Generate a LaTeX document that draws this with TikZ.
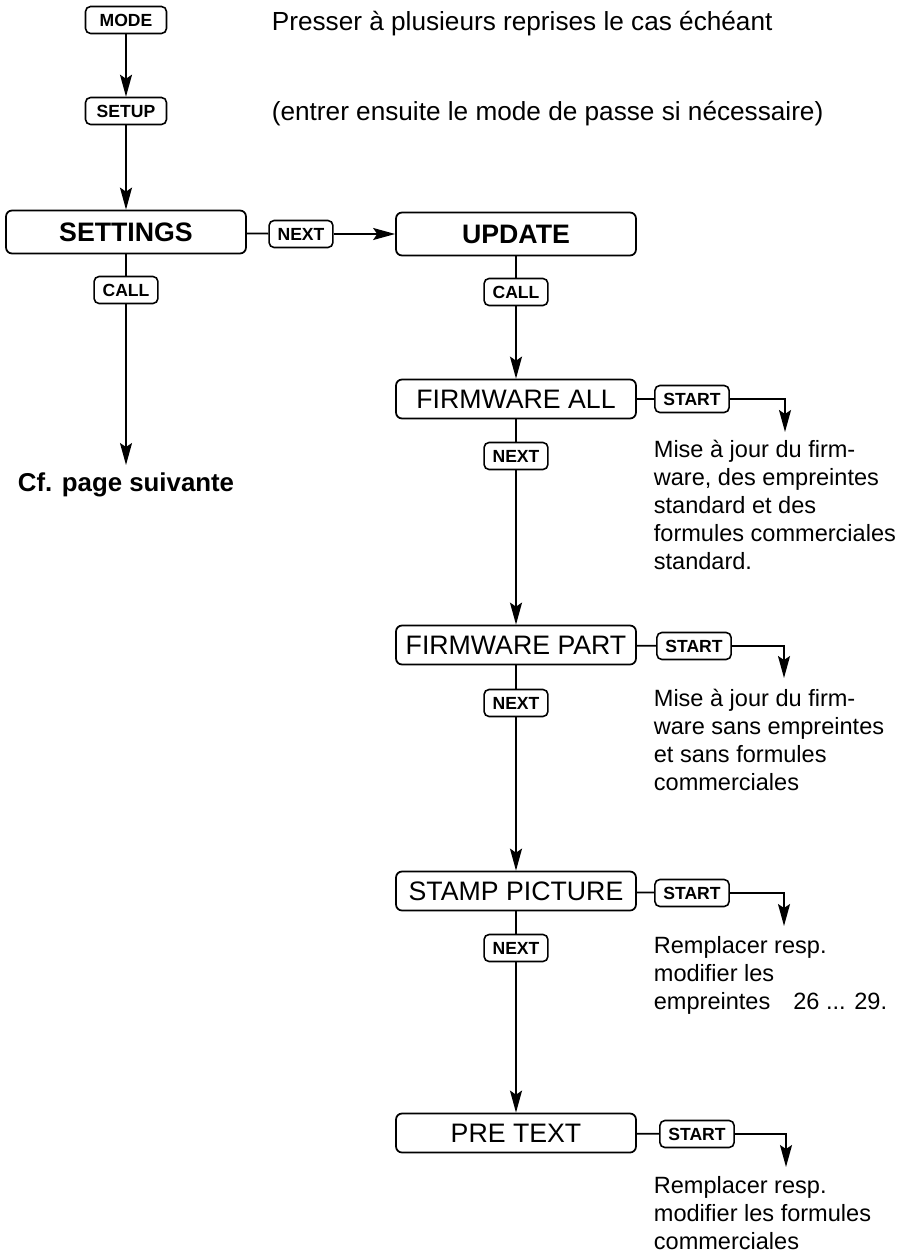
\documentclass[tikz,border=0pt]{standalone}
\usepackage{fontspec}
\setmainfont{Liberation Sans}
\usetikzlibrary{arrows.meta}

\begin{document}
\begin{tikzpicture}
 [
  x=0.02cm, y=-0.02cm,
  >={Stealth[length=0.44cm, width=0.24cm, inset=0.08cm]},
  every path/.style = {line width=1pt},
  key/.style   = {draw, rounded corners=0.1cm, line width=0.9pt, inner xsep=0.17cm,
                  minimum height=0.54cm, font=\fontsize{10}{12}\selectfont\bfseries},
  menu/.style  = {draw, rounded corners=0.12cm, minimum width=4.8cm, minimum height=0.78cm,
                  font=\fontsize{15.2}{17}\selectfont},
  title/.style = {menu, minimum height=0.86cm, font=\fontsize{15.2}{17}\selectfont\bfseries},
  note/.style  = {anchor=north west, inner sep=0pt, align=left,
                  font=\fontsize{13.4}{15.93}\selectfont},
  hint/.style  = {anchor=base west, inner sep=0pt, font=\fontsize{14.9}{17}\selectfont},
 ]
 \useasboundingbox (0,0) rectangle (902,1253);

 % the keys on top
 \node (mode)  at (126,20)  [key, minimum width=1.62cm] {MODE};
 \node (setup) at (126,111) [key, minimum width=1.62cm] {SETUP};
 \node (hint1) at (271,31)  [hint] {Presser à plusieurs reprises le cas échéant};
 \node (hint2) at (271,121) [hint] {(entrer ensuite le mode de passe si nécessaire)};

 % the two menus
 \node (settings) at (126,232) [title] {SETTINGS};
 \node (next0)    at (301,234) [key] {NEXT};
 \node (update)   at (516,234) [title] {UPDATE};
 \node (call1)    at (126,290) [key] {CALL};
 \node (call2)    at (516,292) [key] {CALL};
 \node (cf) at (126,465) [anchor=north, inner sep=0.14cm,
   font=\fontsize{14.7}{16}\selectfont\bfseries] {Cf. page suivante};

 % the update entries
 \node (fwall)   at (516,399)  [menu] {FIRMWARE ALL};
 \node (next1)   at (516,456)  [key] {NEXT};
 \node (fwpart)  at (516,645)  [menu] {FIRMWARE PART};
 \node (next2)   at (516,703)  [key] {NEXT};
 \node (stamp)   at (516,891)  [menu] {STAMP PICTURE};
 \node (next3)   at (516,948)  [key] {NEXT};
 \node (pretext) at (516,1133) [menu] {PRE TEXT};

 \node (start1) at (692,399)  [key] {START};
 \node (start2) at (694,646)  [key] {START};
 \node (start3) at (692,893)  [key] {START};
 \node (start4) at (697,1134) [key] {START};

 \coordinate (tip1) at (785,432);
 \coordinate (tip2) at (784,678);
 \coordinate (tip3) at (784,926);
 \coordinate (tip4) at (786,1167);

 \node (text1) at (653,439) [note] {Mise à jour du firm-\\ware, des empreintes\\standard et des\\formules commerciales\\standard.};
 \node (text2) at (653,688) [note] {Mise à jour du firm-\\ware sans empreintes\\et sans formules\\commerciales};
 \node (text3) at (653,936) [note] {Remplacer resp.\\modifier les\\empreintes\hspace{0.46cm}26 ... 29.};
 \node (text4) at (653,1176) [note] {Remplacer resp.\\modifier les formules\\commerciales};

 % connectors
 \draw[->] (mode) -- (setup);
 \draw[->] (setup) -- (settings);
 \draw (settings) -- (next0);
 \draw[->] (next0) -- (update);
 \draw (settings) -- (call1);
 \draw[->] (call1) -- (cf);
 \draw (update) -- (call2);
 \draw[->] (call2) -- (fwall);

 \draw (fwall) -- (next1);
 \draw[->] (next1) -- (fwpart);
 \draw (fwpart) -- (next2);
 \draw[->] (next2) -- (stamp);
 \draw (stamp) -- (next3);
 \draw[->] (next3) -- (pretext);

 \draw (fwall) -- (start1);
 \draw[->] (start1) -| (tip1);
 \draw (fwpart) -- (start2);
 \draw[->] (start2) -| (tip2);
 \draw (stamp) -- (start3);
 \draw[->] (start3) -| (tip3);
 \draw (pretext) -- (start4);
 \draw[->] (start4) -| (tip4);
\end{tikzpicture}
\end{document}
